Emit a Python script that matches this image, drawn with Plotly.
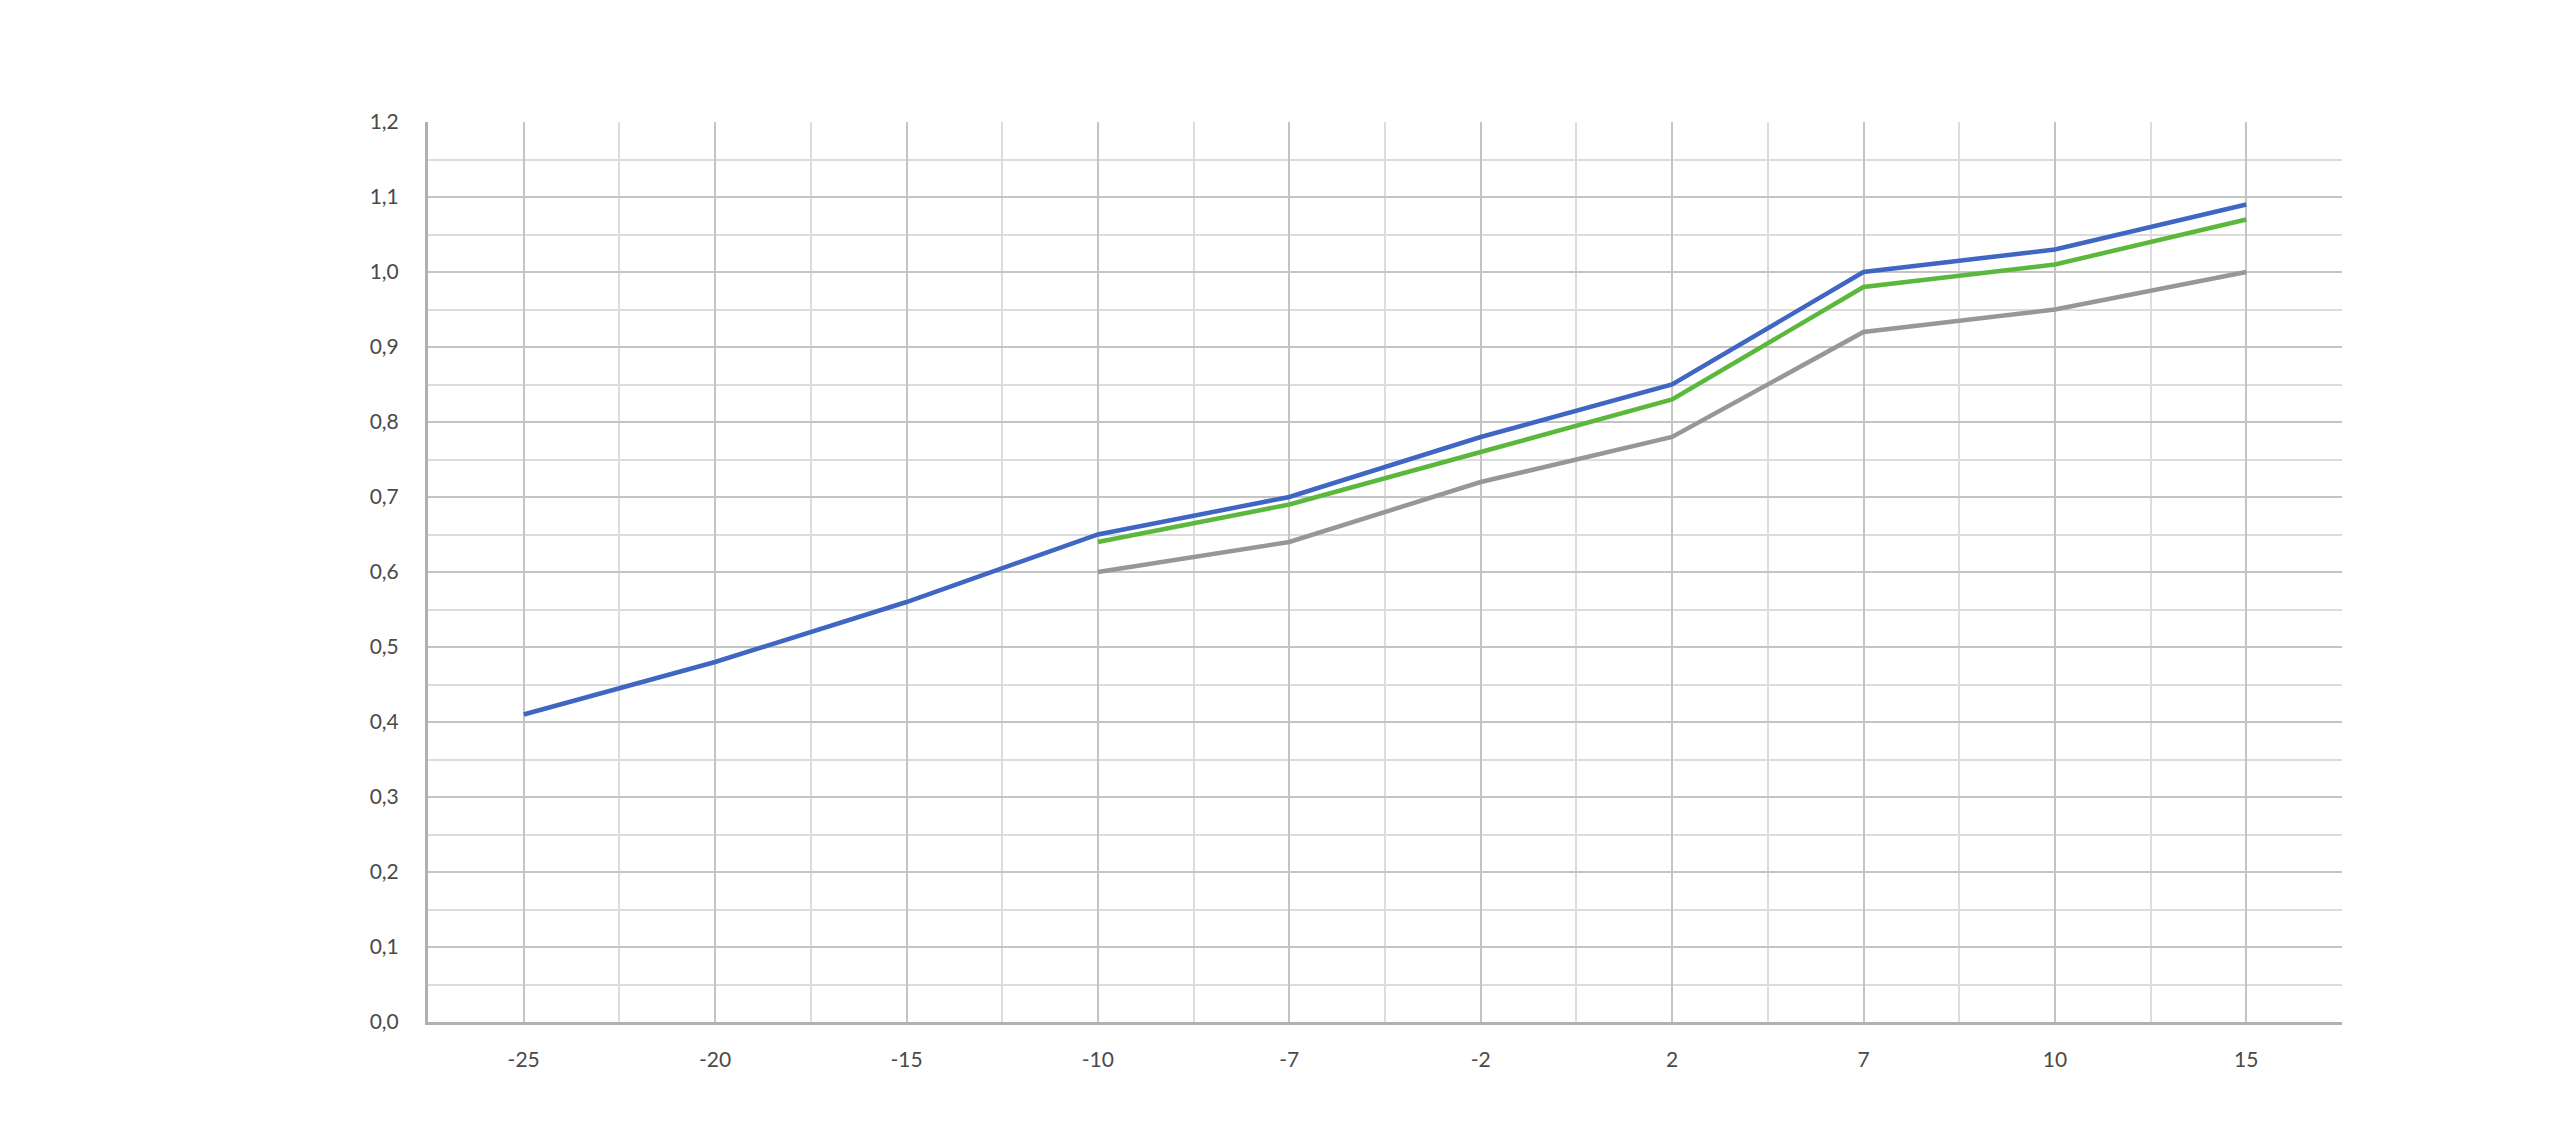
import plotly.graph_objects as go

categories = ["-25", "-20", "-15", "-10", "-7", "-2", "2", "7", "10", "15"]
blue_vals = [0.41, 0.48, 0.56, 0.65, 0.70, 0.78, 0.85, 1.00, 1.03, 1.09]
green_vals = [None, None, None, 0.64, 0.69, 0.76, 0.83, 0.98, 1.01, 1.07]
grey_vals = [None, None, None, 0.60, 0.64, 0.72, 0.78, 0.92, 0.95, 1.00]
y_ticks = [0.0, 0.1, 0.2, 0.3, 0.4, 0.5, 0.6, 0.7, 0.8, 0.9, 1.0, 1.1, 1.2]

xpos = list(range(len(categories)))

fig = go.Figure()
fig.add_trace(go.Scatter(x=xpos, y=grey_vals, mode="lines",
                         line=dict(color="#979797", width=4.5), showlegend=False))
fig.add_trace(go.Scatter(x=xpos, y=green_vals, mode="lines",
                         line=dict(color="#5cb83d", width=4.5), showlegend=False))
fig.add_trace(go.Scatter(x=xpos, y=blue_vals, mode="lines",
                         line=dict(color="#3f66c2", width=4.5), showlegend=False))

fig.update_layout(
    width=2552, height=1132,
    margin=dict(l=420, r=218, t=114, b=118),
    paper_bgcolor="white", plot_bgcolor="white",
    separators=", ",
    font=dict(family="Lato, 'Open Sans', sans-serif", size=21, color="#4a4a4a"),
    xaxis=dict(
        range=[-0.5, len(categories) - 0.5],
        tickmode="array", tickvals=xpos, ticktext=categories,
        showgrid=True, gridcolor="#c4c4c4", gridwidth=2,
        minor=dict(dtick=0.5, tick0=-0.5, showgrid=True, gridcolor="#dcdcdc", gridwidth=2),
        zeroline=False, showline=True, linecolor="#b0b0b0", linewidth=3, ticks="",
        ticklabelstandoff=17, fixedrange=True,
    ),
    yaxis=dict(
        range=[0, 1.2],
        tickmode="array", tickvals=y_ticks, tickformat=".1f",
        showgrid=True, gridcolor="#c4c4c4", gridwidth=2,
        minor=dict(dtick=0.05, tick0=0, showgrid=True, gridcolor="#dcdcdc", gridwidth=2),
        zeroline=False, showline=True, linecolor="#b0b0b0", linewidth=3, ticks="",
        ticklabelstandoff=22, fixedrange=True,
    ),
)

fig.write_html("out.html")
